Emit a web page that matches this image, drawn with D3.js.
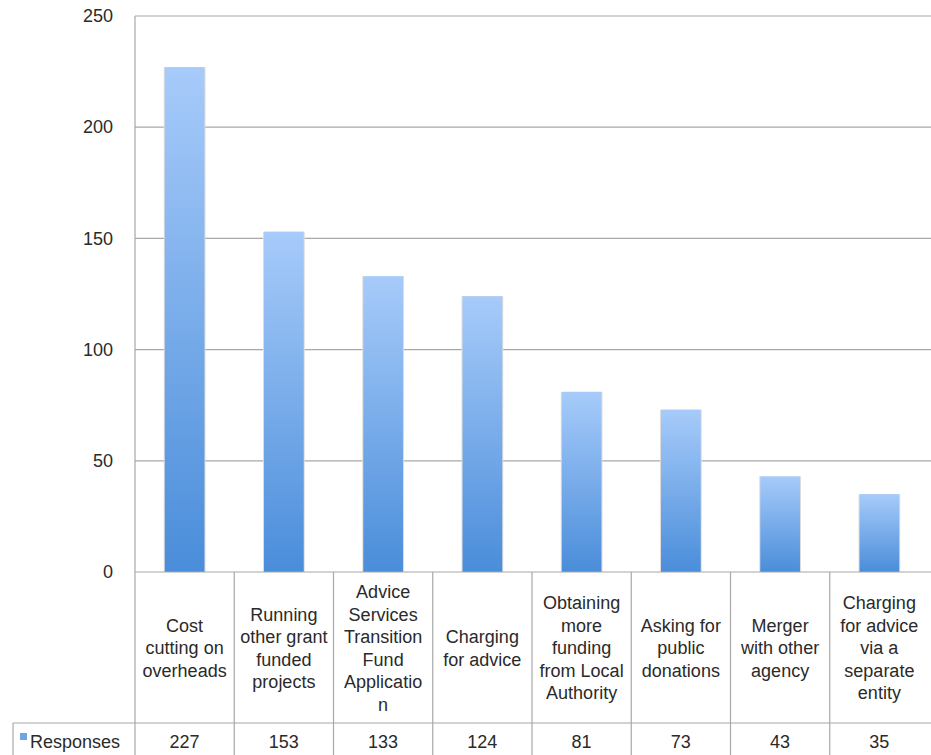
<!DOCTYPE html>
<html>
<head>
<meta charset="utf-8">
<script src="https://cdn.jsdelivr.net/npm/d3@7"></script>
<style>
  body { margin: 0; background: #fff; }
  svg { display: block; font-family: "Liberation Sans", Arial, Helvetica, sans-serif; }
</style>
</head>
<body>
<div id="chart"></div>
<script>
// chart data
const categories = [
  ["Cost", "cutting on", "overheads"],
  ["Running", "other grant", "funded", "projects"],
  ["Advice", "Services", "Transition", "Fund", "Applicatio", "n"],
  ["Charging", "for advice"],
  ["Obtaining", "more", "funding", "from Local", "Authority"],
  ["Asking for", "public", "donations"],
  ["Merger", "with other", "agency"],
  ["Charging", "for advice", "via a", "separate", "entity"]
];
const responses = [227, 153, 133, 124, 81, 73, 43, 35];
const seriesName = "Responses";
const yTicks = [0, 50, 100, 150, 200, 250];

const W = 931, H = 755;
const plotLeft = 135, plotRight = 929, plotTop = 16, plotBottom = 572;
const tableMid = 723, legendLeft = 13;
const lineColor = "#a8a8a8";
const textColor = "#2a2a2a";

const svg = d3.select("#chart").append("svg")
  .attr("width", W)
  .attr("height", H);

const defs = svg.append("defs");
const grad = defs.append("linearGradient")
  .attr("id", "barGrad")
  .attr("x1", 0).attr("y1", 0).attr("x2", 0).attr("y2", 1);
grad.append("stop").attr("offset", "0%").attr("stop-color", "#a7cbfa");
grad.append("stop").attr("offset", "100%").attr("stop-color", "#4a8dda");

const keys = d3.range(categories.length);

const x = d3.scaleBand()
  .domain(keys)
  .range([plotLeft, plotRight])
  .paddingInner(0.6)
  .paddingOuter(0.3);

// column boundaries for the table
const cols = d3.scaleBand()
  .domain(keys)
  .range([plotLeft, plotRight]);

const y = d3.scaleLinear()
  .domain([0, 250])
  .range([plotBottom, plotTop]);

// gridlines
svg.append("g")
  .selectAll("line")
  .data(yTicks.slice(1))
  .enter().append("line")
  .attr("x1", plotLeft).attr("x2", W)
  .attr("y1", d => y(d)).attr("y2", d => y(d))
  .attr("stroke", lineColor)
  .attr("stroke-width", 1.2);

// y axis
const yAxis = d3.axisLeft(y).tickValues(yTicks).tickSize(0).tickPadding(22);
const yg = svg.append("g")
  .attr("transform", `translate(${plotLeft},0)`)
  .call(yAxis);
yg.select(".domain").remove();
yg.selectAll("text")
  .attr("font-size", 18)
  .attr("fill", textColor)
  .attr("font-family", "Liberation Sans, Arial, sans-serif");

// bar shadows
svg.append("g")
  .selectAll("rect")
  .data(responses)
  .enter().append("rect")
  .attr("x", (d, i) => x(i) - 1)
  .attr("y", d => y(d))
  .attr("width", x.bandwidth() + 2)
  .attr("height", d => plotBottom - y(d))
  .attr("fill", "#dcdcdc");

// bars
svg.append("g")
  .selectAll("rect")
  .data(responses)
  .enter().append("rect")
  .attr("x", (d, i) => x(i))
  .attr("y", d => y(d))
  .attr("width", x.bandwidth())
  .attr("height", d => plotBottom - y(d))
  .attr("fill", "url(#barGrad)");

// table lines
const table = svg.append("g").attr("stroke", lineColor).attr("stroke-width", 1.2);
table.append("line")
  .attr("x1", plotLeft).attr("x2", plotLeft)
  .attr("y1", plotTop).attr("y2", H);
table.append("line")
  .attr("x1", plotLeft).attr("x2", W)
  .attr("y1", plotBottom).attr("y2", plotBottom);
table.append("line")
  .attr("x1", legendLeft).attr("x2", W)
  .attr("y1", tableMid).attr("y2", tableMid);
table.append("line")
  .attr("x1", legendLeft).attr("x2", legendLeft)
  .attr("y1", tableMid).attr("y2", H);
table.selectAll(".col")
  .data(keys.slice(1))
  .enter().append("line")
  .attr("x1", d => cols(d))
  .attr("x2", d => cols(d))
  .attr("y1", plotBottom).attr("y2", H);

// category labels
const lineH = 22.5, labelMid = 648;
const labels = svg.append("g")
  .attr("font-size", 18)
  .attr("fill", textColor)
  .attr("text-anchor", "middle");
labels.selectAll("text")
  .data(categories)
  .enter().append("text")
  .attr("x", (d, i) => cols(i) + cols.bandwidth() / 2)
  .attr("y", d => labelMid - (d.length - 1) * lineH / 2)
  .each(function (d) {
    d3.select(this).selectAll("tspan")
      .data(d)
      .enter().append("tspan")
      .attr("x", d3.select(this).attr("x"))
      .attr("dy", (t, j) => j === 0 ? "0.35em" : lineH)
      .text(t => t);
  });

// values row
svg.append("g")
  .attr("font-size", 18)
  .attr("fill", textColor)
  .attr("text-anchor", "middle")
  .selectAll("text")
  .data(responses)
  .enter().append("text")
  .attr("x", (d, i) => cols(i) + cols.bandwidth() / 2)
  .attr("y", 748)
  .text(d => d);

// legend key
svg.append("rect")
  .attr("x", 20).attr("y", 733)
  .attr("width", 7).attr("height", 7)
  .attr("fill", "#6ea3e6");
svg.append("text")
  .attr("x", 30).attr("y", 748)
  .attr("font-size", 18)
  .attr("fill", textColor)
  .text(seriesName);
</script>
</body>
</html>
